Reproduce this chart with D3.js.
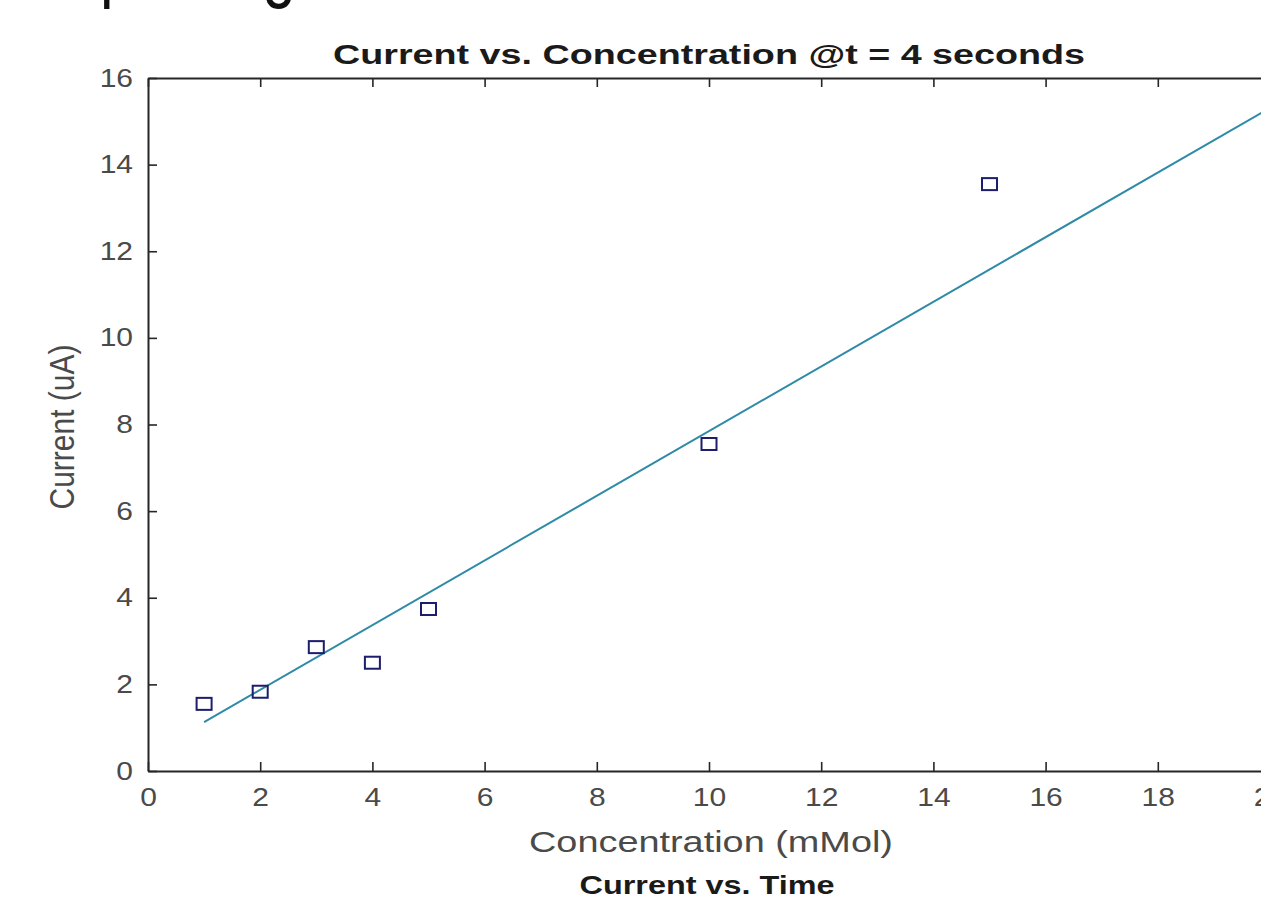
<!DOCTYPE html>
<html>
<head>
<meta charset="utf-8">
<script src="https://cdn.jsdelivr.net/npm/d3@7"></script>
<style>
  body { margin: 0; background: #fff; }
  text { font-family: "Liberation Sans", Arial, Helvetica, sans-serif; }
</style>
</head>
<body>
<div id="chart"></div>
<script>
// data
var concentration = [1, 2, 3, 4, 5, 10, 15];
var current = [1.55, 1.83, 2.86, 2.5, 3.74, 7.55, 13.55];

// fitted line end points
var fitX = [1, 20];
var fitY = [1.13, 15.31];

var xTicks = [0, 2, 4, 6, 8, 10, 12, 14, 16, 18, 20];
var yTicks = [0, 2, 4, 6, 8, 10, 12, 14, 16];

var W = 1261, H = 898;
var plotLeft = 148, plotRight = 1270, plotTop = 78, plotBottom = 771;
var stretch = 1.2;   // the screenshot is wider than tall
var axisColor = "#262626", labelColor = "#4a4a4a";

var svg = d3.select("#chart")
    .append("svg")
    .attr("width", W)
    .attr("height", H)
    .style("display", "block");

svg.append("rect").attr("width", W).attr("height", H).attr("fill", "#fff");

// scales
var x = d3.scaleLinear().domain([0, 20]).range([plotLeft, plotRight]);
var y = d3.scaleLinear().domain([0, 16]).range([plotBottom, plotTop]);

// clipped slide text at the very top, only descenders show
svg.append("text")
    .attr("x", 100).attr("y", -8)
    .attr("textLength", 196)
    .attr("lengthAdjust", "spacingAndGlyphs")
    .style("font-size", "80px")
    .attr("fill", "#111")
    .text("plotting");

function styleAxis(g) {
    g.select(".domain").attr("stroke", axisColor).attr("stroke-width", 2);
    g.selectAll(".tick line").attr("stroke", axisColor).attr("stroke-width", 1.6);
}

// bottom axis
var gx = svg.append("g")
    .attr("transform", `translate(0,${plotBottom})`)
    .call(d3.axisBottom(x).tickValues(xTicks).tickSizeInner(-9).tickSizeOuter(0).tickPadding(17));
styleAxis(gx);
gx.selectAll("text")
    .attr("fill", labelColor)
    .style("font-size", "25px")
    .attr("transform", `scale(${stretch},1)`);

// left axis
var gy = svg.append("g")
    .attr("transform", `translate(${plotLeft},0)`)
    .call(d3.axisLeft(y).tickValues(yTicks).tickSizeInner(-9).tickSizeOuter(0).tickPadding(12.5));
styleAxis(gy);
gy.selectAll("text")
    .attr("fill", labelColor)
    .style("font-size", "25px")
    .attr("transform", `scale(${stretch},1)`);

// top and right axes, ticks only
var gt = svg.append("g")
    .attr("transform", `translate(0,${plotTop})`)
    .call(d3.axisTop(x).tickValues(xTicks).tickSizeInner(-9).tickSizeOuter(0).tickFormat(""));
styleAxis(gt);

var gr = svg.append("g")
    .attr("transform", `translate(${plotRight},0)`)
    .call(d3.axisRight(y).tickValues(yTicks).tickSizeInner(-9).tickSizeOuter(0).tickFormat(""));
styleAxis(gr);

// fit line
var line = d3.line().x(d => x(d[0])).y(d => y(d[1]));
svg.append("path")
    .datum(d3.zip(fitX, fitY))
    .attr("d", line)
    .attr("fill", "none")
    .attr("stroke", "#2e8aa6")
    .attr("stroke-width", 2);

// square markers
var mw = 15, mh = 12;
svg.append("g")
    .selectAll("rect")
    .data(d3.zip(concentration, current))
    .join("rect")
    .attr("x", d => x(d[0]) - mw / 2)
    .attr("y", d => y(d[1]) - mh / 2)
    .attr("width", mw)
    .attr("height", mh)
    .attr("fill", "none")
    .attr("stroke", "#1d1d6e")
    .attr("stroke-width", 2);

// title
svg.append("text")
    .attr("x", 709).attr("y", 64)
    .attr("text-anchor", "middle")
    .attr("textLength", 752)
    .attr("lengthAdjust", "spacingAndGlyphs")
    .style("font-size", "28px")
    .style("font-weight", "bold")
    .attr("fill", "#1a1a1a")
    .text("Current vs. Concentration @t = 4 seconds");

// axis labels
svg.append("text")
    .attr("x", 711).attr("y", 852)
    .attr("text-anchor", "middle")
    .attr("textLength", 364)
    .attr("lengthAdjust", "spacingAndGlyphs")
    .style("font-size", "29px")
    .attr("fill", labelColor)
    .text("Concentration (mMol)");

svg.append("text")
    .attr("transform", `translate(62,427) scale(1.18,1) rotate(-90)`)
    .attr("text-anchor", "middle")
    .attr("dy", "0.35em")
    .style("font-size", "30px")
    .attr("fill", labelColor)
    .text("Current (uA)");

// next subplot title at the bottom edge
svg.append("text")
    .attr("x", 707).attr("y", 894)
    .attr("text-anchor", "middle")
    .attr("textLength", 255)
    .attr("lengthAdjust", "spacingAndGlyphs")
    .style("font-size", "25px")
    .style("font-weight", "bold")
    .attr("fill", "#1a1a1a")
    .text("Current vs. Time");
</script>
</body>
</html>
